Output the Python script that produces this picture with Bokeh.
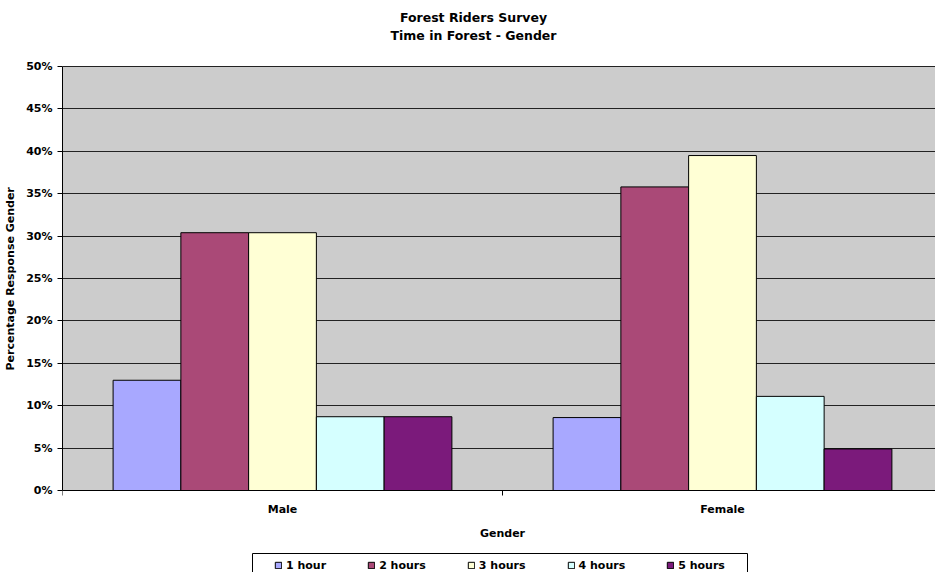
from bokeh.plotting import figure
from bokeh.models import (Range1d, FixedTicker, NumeralTickFormatter, Label,
                          Legend, LegendItem, BoxAnnotation, Span)
from bokeh.embed import file_html
from bokeh.resources import INLINE

# ---- data ----
title_lines = ["Forest Riders Survey", "Time in Forest - Gender"]
x_label = "Gender"
y_label = "Percentage Response Gender"
genders = ["Male", "Female"]
series = ["1 hour", "2 hours", "3 hours", "4 hours", "5 hours"]
hour_1 = [0.130, 0.086]
hour_2 = [0.304, 0.358]
hour_3 = [0.304, 0.395]
hour_4 = [0.087, 0.111]
hour_5 = [0.087, 0.049]
colors = ["#A8A8FF", "#AA4977", "#FFFFD5", "#D5FFFF", "#7B1A7B"]
y_ticks = [0.0, 0.05, 0.10, 0.15, 0.20, 0.25, 0.30, 0.35, 0.40, 0.45, 0.50]

FONT = "DejaVu Sans"

# ---- layout (pixel geometry of the page -> data units) ----
W, H = 935, 572
LEFT = 62                 # plot area left edge (px)
TOP, BOTTOM = 66, 490     # plot area top / bottom (px)
CAT_PX = 440              # width of one gender category (px)
Y_MAX = y_ticks[-1]
PX = Y_MAX / (BOTTOM - TOP)          # data units per pixel (vertical)


def ydata(px):
    return (BOTTOM - px) * PX


def xdata(px):
    return (px - LEFT) / CAT_PX


p = figure(width=W, height=H, output_backend="svg", toolbar_location=None,
           x_range=Range1d(0, xdata(W)), y_range=Range1d(ydata(H), ydata(0)),
           x_axis_location=None,
           min_border_left=LEFT, min_border_right=0, min_border_top=0,
           min_border_bottom=0)
p.title.visible = False
p.background_fill_color = "white"
p.border_fill_color = "white"
p.outline_line_color = None

# grey plot area
p.add_layout(BoxAnnotation(bottom=0, top=Y_MAX, fill_color="#CCCCCC", fill_alpha=1,
                           line_color=None, level="image"))

# ---- bars ----
bar_w = 0.154
centers = [i + 0.5 for i in range(len(genders))]
values = [hour_1, hour_2, hour_3, hour_4, hour_5]
renderers = []
n = len(series)
for k, (name, vals, col) in enumerate(zip(series, values, colors)):
    xs = [c + (k - (n - 1) / 2) * bar_w for c in centers]
    r = p.vbar(x=xs, top=vals, bottom=0, width=bar_w, fill_color=col,
               line_color="black", line_width=1)
    renderers.append(r)

# ---- category axis (drawn at y = 0) ----
p.add_layout(Span(location=0, dimension="width", line_color="black", line_width=1))
bounds = list(range(len(genders) + 1))
p.segment(x0=bounds, x1=bounds, y0=[0] * len(bounds), y1=[-5 * PX] * len(bounds),
          line_color="black", line_width=1)
for c, g in zip(centers, genders):
    p.add_layout(Label(x=c, y=ydata(509), text=g, text_align="center",
                       text_baseline="middle", text_font=FONT,
                       text_font_style="bold", text_font_size="11px",
                       text_color="black"))
p.add_layout(Label(x=len(genders) / 2, y=ydata(533), text=x_label,
                   text_align="center", text_baseline="middle", text_font=FONT,
                   text_font_style="bold", text_font_size="11px",
                   text_color="black"))

# ---- value axis ----
ya = p.yaxis[0]
ya.ticker = FixedTicker(ticks=y_ticks)
ya.bounds = (0, Y_MAX)
ya.formatter = NumeralTickFormatter(format="0%")
ya.major_tick_out = 5
ya.major_tick_in = 0
ya.major_tick_line_color = "black"
ya.minor_tick_line_color = None
ya.major_label_standoff = 5
ya.axis_line_color = "black"
# non-breaking spaces nudge the centred title up to the middle of the grey area
ya.axis_label = "\u00a0" * 4 + y_label
ya.axis_label_standoff = 6
ya.major_label_text_font = FONT
ya.major_label_text_font_style = "bold"
ya.major_label_text_font_size = "11px"
ya.major_label_text_color = "black"
ya.axis_label_text_font = FONT
ya.axis_label_text_font_style = "bold"
ya.axis_label_text_font_size = "11px"
ya.axis_label_text_color = "black"

p.ygrid.ticker = ya.ticker
p.ygrid.grid_line_color = "#222222"
p.ygrid.grid_line_width = 1
p.xgrid.grid_line_color = None

# ---- title ----
for txt, ypx in zip(title_lines, [17, 35]):
    p.add_layout(Label(x=xdata(473), y=ydata(ypx), text=txt, text_align="center",
                       text_baseline="middle", text_font=FONT,
                       text_font_style="bold", text_font_size="12.5px",
                       text_color="black"))

# ---- legend ----
p.add_layout(BoxAnnotation(left=xdata(252), right=xdata(747), top=ydata(553),
                           bottom=ydata(590), fill_color="white", fill_alpha=1,
                           line_color="black", line_width=1, line_alpha=1))
legend = Legend(items=[LegendItem(label=nm, renderers=[r]) for nm, r in zip(series, renderers)],
                orientation="horizontal", location=(274 - LEFT, 0.5), padding=0,
                spacing=41, margin=0, glyph_width=8, glyph_height=8,
                label_standoff=4, label_height=13, label_width=0,
                label_text_font=FONT, label_text_font_style="bold",
                label_text_font_size="11px", label_text_color="black",
                border_line_color=None, background_fill_alpha=0)
p.add_layout(legend)

open("out.html", "w").write(file_html(p, INLINE))
